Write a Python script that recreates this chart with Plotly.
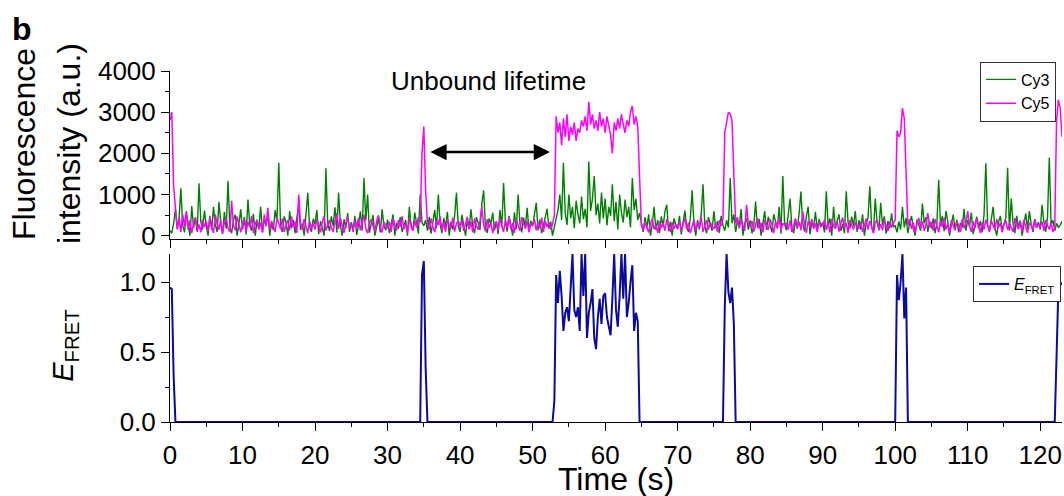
import numpy as np
import plotly.graph_objects as go

# ---------------- data ----------------
frame_s = 0.25  # sampling interval used for the traces (s)

cy3 = [
    120, 60, 300, 650, 180, 420, 1150, 250, 80, 560, 310, 0, 720, 190, 430, 90, 1270, 340, 150, 610,
    230, 0, 480, 140, 700, 260, 90, 820, 310, 40, 580, 170, 1330, 220, 60, 390, 510, 0, 280, 640,
    150, 450, 30, 880, 260, 120, 530, 0, 340, 190, 700, 80, 410, 230, 560, 0, 290, 140, 620, 350,
    1770, 210, 90, 470, 320, 0, 600, 180, 380, 60, 450, 720, 140, 300, 0, 530, 1040, 220, 90, 410,
    280, 620, 40, 350, 160, 0, 1640, 300, 110, 470, 230, 690, 80, 1050, 260, 0, 400, 180, 550, 90,
    330, 150, 480, 20, 260, 590, 120, 1400, 370, 1000, 70, 280, 500, 0, 190, 420, 80, 640, 240, 130,
    390, 60, 260, 520, 0, 310, 170, 450, 90, 240, 380, 0, 700, 210, 130, 560, 270, 50, 1000, 320,
    240, 380, 120, 460, 50, 290, 620, 180, 1000, 270, 60, 430, 210, 580, 0, 340, 150, 490, 1050, 230,
    90, 510, 280, 0, 370, 160, 640, 230, 60, 450, 310, 140, 780, 1100, 200, 70, 420, 290, 560, 130,
    350, 40, 620, 210, 1280, 330, 100, 480, 250, 0, 570, 160, 1000, 290, 80, 440, 210, 680, 120, 360,
    220, 470, 800, 130, 390, 60, 280, 520, 650, 170, 340, 0, 210, 450, 620, 1000, 380, 1770, 540, 260,
    1000, 420, 700, 180, 850, 520, 300, 950, 400, 650, 200, 1800, 600, 900, 1450, 500, 780, 300, 1050, 420,
    900, 250, 700, 480, 1250, 350, 820, 150, 1000, 560, 320, 880, 450, 700, 200, 1400, 620, 900, 380, 550,
    310, 90, 450, 180, 520, 0, 260, 700, 140, 380, 60, 470, 220, 590, 750, 110, 340, 0, 420, 250,
    160, 480, 30, 330, 610, 200, 90, 420, 1100, 270, 0, 380, 150, 520, 1250, 240, 60, 450, 300, 120,
    600, 180, 350, 70, 480, 250, 120, 380, 200, 1400, 300, 520, 90, 360, 210, 650, 0, 280, 430, 150,
    370, 60, 240, 830, 190, 410, 0, 300, 600, 140, 460, 250, 80, 520, 330, 170, 700, 50, 1450, 290,
    130, 450, 900, 220, 60, 380, 170, 540, 1070, 290, 100, 470, 700, 30, 330, 210, 580, 140, 400, 260,
    310, 80, 1080, 240, 420, 0, 700, 190, 350, 520, 120, 280, 60, 1080, 330, 170, 460, 240, 600, 90,
    380, 150, 520, 0, 290, 440, 1200, 210, 80, 900, 340, 130, 800, 260, 470, 50, 360, 180, 540, 220,
    240, 80, 350, 150, 700, 200, 430, 60, 310, 480, 170, 0, 390, 260, 120, 780, 300, 450, 90, 350,
    170, 420, 60, 300, 1360, 230, 480, 110, 600, 340, 0, 270, 510, 150, 390, 80, 310, 200, 650, 120,
    380, 230, 560, 40, 290, 460, 170, 350, 80, 520, 1760, 250, 100, 410, 700, 190, 0, 330, 480, 140,
    260, 430, 1650, 120, 900, 300, 60, 480, 210, 370, 0, 250, 540, 160, 600, 280, 90, 400, 190, 330,
    150, 750, 320, 90, 440, 1900, 260, 380, 120, 300, 200, 250, 350,
]

cy5 = [
    2800, 3000, 1200, 700, 150, 420, 90, 510, 230, 600, 140, 380, 60, 300, 450, 120, 270, 80, 390, 210,
    340, 110, 460, 200, 70, 520, 280, 150, 390, 60, 310, 430, 180, 90, 850, 240, 130, 470, 300, 80,
    270, 420, 100, 340, 210, 480, 60, 290, 390, 150, 320, 80, 510, 230, 680, 140, 360, 200, 90, 440,
    310, 160, 420, 90, 260, 380, 130, 470, 220, 340, 70, 1000, 290, 150, 410, 240, 60, 360, 190, 300,
    150, 400, 250, 80, 330, 470, 120, 280, 380, 200, 90, 350, 550, 160, 430, 240, 70, 310, 460, 180,
    270, 90, 380, 210, 440, 130, 310, 510, 170, 60, 290, 400, 230, 110, 360, 500, 200, 80, 330, 250,
    180, 340, 90, 420, 260, 130, 380, 220, 470, 160, 300, 70, 410, 240, 120, 360, 200, 450, 320, 2000,
    2650, 1100, 300, 150, 420, 220, 80, 380, 260, 470, 140, 330, 90, 400, 250, 180, 440, 100, 300, 360,
    210, 380, 120, 290, 460, 160, 340, 80, 420, 230, 150, 370, 700, 260, 110, 400, 190, 320, 60, 280,
    340, 130, 420, 250, 90, 380, 200, 460, 150, 310, 70, 390, 240, 120, 450, 280, 170, 360, 80, 300,
    250, 400, 130, 310, 180, 440, 90, 360, 210, 330, 150, 280, 500, 2900, 2500, 2750, 2200, 2850, 2400, 2950,
    2300, 2650, 2450, 2750, 2300, 2600, 2500, 2800, 2650, 2900, 2550, 3250, 2700, 2950, 2600, 2800, 2550, 3000, 2650, 2850,
    2500, 2900, 2700, 2450, 2000, 2750, 2550, 2850, 2600, 2950, 2700, 2500, 2800, 2650, 3000, 3150, 2700, 2900, 2650, 1200,
    250, 130, 340, 200, 80, 290, 410, 160, 260, 70, 350, 190, 300, 120, 400, 220, 90, 330, 170, 280,
    200, 350, 110, 280, 430, 160, 320, 60, 250, 390, 140, 300, 210, 460, 90, 270, 380, 150, 330, 220,
    160, 310, 90, 380, 240, 400, 2500, 2750, 3000, 2950, 2800, 1500, 300, 450, 180, 390, 250, 120, 750, 280,
    220, 360, 100, 290, 430, 170, 310, 80, 380, 240, 140, 400, 270, 60, 340, 200, 450, 130, 300, 250,
    310, 150, 380, 90, 260, 420, 200, 340, 130, 590, 280, 70, 360, 230, 410, 160, 300, 90, 350, 220,
    260, 390, 140, 320, 80, 410, 230, 170, 360, 100, 290, 440, 190, 310, 70, 380, 250, 150, 330, 210,
    180, 340, 90, 270, 420, 150, 360, 220, 60, 310, 400, 170, 280, 130, 390, 240, 110, 350, 200, 300,
    380, 2550, 2400, 2500, 3100, 2850, 1500, 250, 400, 160, 320, 80, 290, 430, 190, 350, 120, 270, 550, 210,
    330, 120, 400, 250, 80, 360, 210, 440, 150, 290, 70, 380, 230, 130, 340, 260, 90, 410, 180, 300,
    600, 240, 90, 350, 180, 420, 270, 60, 330, 150, 390, 220, 100, 370, 250, 140, 410, 200, 310, 80,
    270, 380, 140, 300, 200, 90, 430, 250, 160, 340, 110, 390, 220, 70, 310, 260, 150, 400, 190, 280,
    210, 340, 120, 380, 250, 150, 320, 90, 200, 2800, 3300, 3100, 2400,
]

# E_FRET is 0 outside the bound (FRET) events; values during each event:
efret_event_starts = [0.0, 34.75, 53.0, 76.5, 100.25, 122.25]
efret_event_values = [
    [0.96, 0.95, 0.33],
    [1.05, 1.15, 0.39],
    [0.15, 1.05, 0.85, 1.08, 0.9, 0.65, 0.78, 0.82,
     0.72, 0.95, 1.2, 0.8, 0.75, 0.82, 0.65, 1.2, 0.9, 1.2,
     0.6, 0.78, 0.85, 0.95, 0.6, 0.52, 0.75, 0.88, 0.7, 0.9,
     0.92, 0.75, 0.68, 0.62, 0.88, 1.2, 0.8, 0.68, 0.9, 1.2,
     0.88, 1.2, 0.75, 0.85, 1.0, 1.12, 0.65, 0.78, 0.72],
    [0.82, 1.2, 0.93, 0.85, 0.96, 0.70],
    [1.05, 0.87, 1.0, 1.2, 0.74, 0.96],
    [0.47, 0.95, 1.0, 0.98],
]

x_tick_step = 10
x_minor_step = 5
arrow_from_s = 35.7
arrow_to_s = 52.4
arrow_level = 2030

# ---------------- build ----------------
n = len(cy3)
time = np.arange(n) * frame_s
efret = np.zeros(n)
for start, vals in zip(efret_event_starts, efret_event_values):
    i0 = int(round(start / frame_s))
    efret[i0:i0 + len(vals)] = vals

FONT = "Liberation Sans, Arial, Helvetica, sans-serif"

fig = go.Figure()
fig.add_trace(go.Scatter(x=time, y=cy3, mode="lines", name="Cy3",
                         line=dict(color="#008000", width=1.4),
                         xaxis="x", yaxis="y", legend="legend"))
fig.add_trace(go.Scatter(x=time, y=cy5, mode="lines", name="Cy5",
                         line=dict(color="#ff00ff", width=1.5),
                         xaxis="x", yaxis="y", legend="legend"))
fig.add_trace(go.Scatter(x=time, y=efret, mode="lines", name="<i>E</i><sub>FRET</sub>",
                         line=dict(color="#0b0b9c", width=2),
                         xaxis="x2", yaxis="y2", legend="legend2"))

axis_common = dict(showline=True, linecolor="black", linewidth=1, ticks="outside",
                   ticklen=8, tickwidth=1, tickcolor="black", showgrid=False,
                   zeroline=False, tickfont=dict(family=FONT, size=26, color="black"))

top_dom = [0.5214, 1.0]
bot_dom = [0.0, 0.4786]

fig.update_layout(
    width=1064, height=496,
    margin=dict(l=170, r=2, t=71, b=74),
    paper_bgcolor="white", plot_bgcolor="white",
    font=dict(family=FONT, color="black"),
    showlegend=True,
    xaxis=dict(**axis_common, domain=[0, 1], anchor="y", range=[0, 123],
               tick0=0, dtick=x_tick_step, showticklabels=False,
               minor=dict(dtick=x_minor_step, ticks="outside", ticklen=4, tickcolor="black")),
    yaxis=dict(**axis_common, domain=top_dom, anchor="x", range=[-80, 4000],
               tick0=0, dtick=1000,
               minor=dict(dtick=500, ticks="outside", ticklen=4, tickcolor="black")),
    xaxis2=dict(**axis_common, domain=[0, 1], anchor="y2", range=[0, 123],
                tick0=0, dtick=x_tick_step, ticklabelstandoff=2,
                minor=dict(dtick=x_minor_step, ticks="outside", ticklen=4, tickcolor="black")),
    yaxis2=dict(**axis_common, domain=bot_dom, anchor="x2", range=[0, 1.2],
                tick0=0, dtick=0.5, tickformat=".1f",
                minor=dict(dtick=0.25, ticks="outside", ticklen=4, tickcolor="black")),
    legend=dict(x=0.9933, y=1.027, xanchor="right", yanchor="top",
                bordercolor="#333333", borderwidth=1, bgcolor="white",
                font=dict(family=FONT, size=16, color="black"), tracegroupgap=0),
    legend2=dict(x=0.999, y=0.4444, xanchor="right", yanchor="top",
                 bordercolor="#333333", borderwidth=1, bgcolor="white",
                 font=dict(family=FONT, size=16, color="black")),
)

annotations = [
    dict(text="<b>b</b>", x=-0.166, y=1.1197, xref="paper", yref="paper",
         xanchor="center", yanchor="middle",
         showarrow=False, font=dict(family=FONT, size=32, color="black")),
    dict(text="Fluorescence", x=-0.1637, y=0.792, xref="paper", yref="paper",
         textangle=-90, xanchor="center", yanchor="middle",
         showarrow=False, font=dict(family=FONT, size=32, color="black")),
    dict(text="intensity (a.u.)", x=-0.1132, y=0.792, xref="paper", yref="paper",
         textangle=-90, xanchor="center", yanchor="middle",
         showarrow=False, font=dict(family=FONT, size=32, color="black")),
    dict(text="<i>E</i><sub>FRET</sub>", x=-0.118, y=0.2165, xref="paper", yref="paper",
         textangle=-90, xanchor="center", yanchor="middle",
         showarrow=False, font=dict(family=FONT, size=29, color="black")),
    dict(text="Time (s)", x=0.5, y=-0.1625, xref="paper", yref="paper",
         xanchor="center", yanchor="middle",
         showarrow=False, font=dict(family=FONT, size=32, color="black")),
    dict(text="Unbound lifetime", x=0.3576, y=0.9715, xref="paper", yref="paper",
         xanchor="center", yanchor="middle",
         showarrow=False, font=dict(family=FONT, size=26, color="black")),
    dict(text="", x=arrow_to_s, y=arrow_level, ax=arrow_from_s, ay=arrow_level,
         xref="x", yref="y", axref="x", ayref="y", showarrow=True,
         arrowhead=2, startarrowhead=2, arrowside="end+start",
         arrowsize=1.3, startarrowsize=1.3, arrowwidth=2.5, arrowcolor="black",
         standoff=0, startstandoff=0),
]
fig.update_layout(annotations=annotations)

fig.write_html("out.html", config={"displayModeBar": False},
               post_script="document.body.style.margin='0px';")
